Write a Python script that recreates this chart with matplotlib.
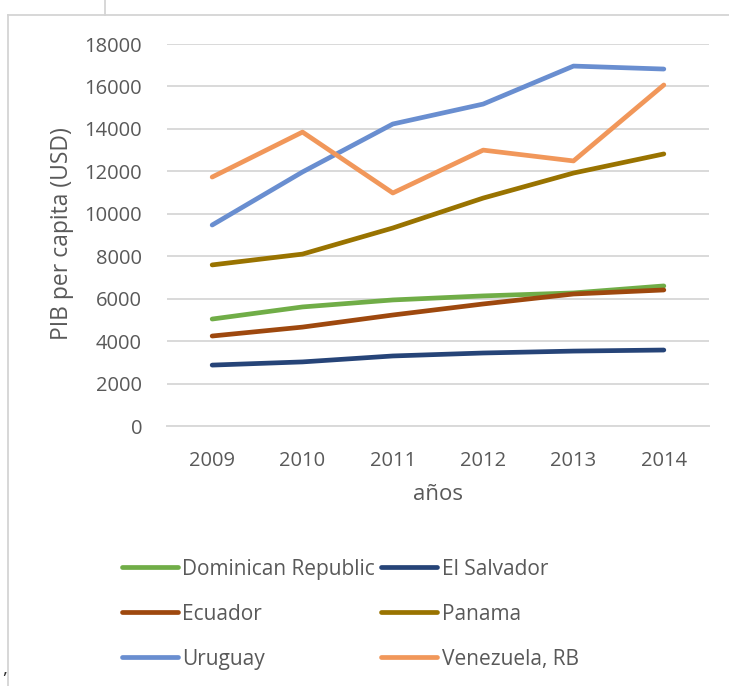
import matplotlib.pyplot as plt
from matplotlib.lines import Line2D

plt.rcParams['font.family'] = ['Open Sans', 'DejaVu Sans']

years = ['2009', '2010', '2011', '2012', '2013', '2014']
dominican = [5040, 5610, 5940, 6130, 6270, 6600]
el_salvador = [2870, 3020, 3300, 3440, 3530, 3580]
ecuador = [4240, 4660, 5230, 5750, 6220, 6410]
panama = [7590, 8100, 9330, 10740, 11920, 12820]
uruguay = [9470, 11970, 14230, 15170, 16960, 16820]
venezuela = [11730, 13850, 10980, 13000, 12490, 16070]

series = [
    ("Dominican Republic", dominican, '#70AD47'),
    ("El Salvador", el_salvador, '#264478'),
    ("Ecuador", ecuador, '#9E480E'),
    ("Panama", panama, '#997300'),
    ("Uruguay", uruguay, '#698ED0'),
    ("Venezuela, RB", venezuela, '#F1975A'),
]

W, H = 729, 686
fig = plt.figure(figsize=(W / 100, H / 100), dpi=100)
ax = fig.add_axes([167 / W, 1 - 426 / H, 542 / W, 382 / H])

txt = '#595959'
grid = '#D9D9D9'

x = list(range(len(years)))
handles = {}
for name, vals, col in series:
    ln, = ax.plot(x, vals, color=col, lw=3.4, solid_capstyle='round',
                  solid_joinstyle='round', label=name, zorder=3)
    handles[name] = ln

ax.set_xlim(-0.5, len(years) - 0.5)
ax.set_ylim(0, 18000)
ax.set_yticks(range(0, 18001, 2000))
ax.set_xticks(x)
ax.set_xticklabels(years)
ax.yaxis.grid(True, color=grid, lw=1.4)
ax.set_axisbelow(True)
for s in ['top', 'right', 'left']:
    ax.spines[s].set_visible(False)
ax.spines['bottom'].set_color(grid)
ax.spines['bottom'].set_linewidth(1.4)
ax.tick_params(axis='both', length=0, labelsize=14.5, colors=txt)
ax.tick_params(axis='y', pad=18)
ax.tick_params(axis='x', pad=18)

ax.set_ylabel("PIB per capita (USD)", fontsize=16.5, color=txt,
              ha='center', va='center')
ax.yaxis.set_label_coords(-105 / 542, 0.505)
ax.set_xlabel("años", fontsize=16, color=txt, ha='center', va='center')
ax.xaxis.set_label_coords(0.5, -69 / 382)

# legend laid out row by row, two columns
order = ["Dominican Republic", "Ecuador", "Uruguay",
         "El Salvador", "Panama", "Venezuela, RB"]
leg = fig.legend([handles[n] for n in order], order, ncol=2,
                 loc='upper left', bbox_to_anchor=(103 / W, 1 - 540 / H),
                 frameon=False, fontsize=15, labelcolor=txt,
                 handlelength=2.7, handletextpad=0.2, columnspacing=0.3,
                 labelspacing=1.15)

# surrounding frame lines
frame = '#D4D4D4'
fig.add_artist(Line2D([8 / W, 1], [1 - 15 / H, 1 - 15 / H], color=frame, lw=1.3))
fig.add_artist(Line2D([8 / W, 8 / W], [0, 1 - 15 / H], color=frame, lw=1.3))
fig.add_artist(Line2D([105 / W, 105 / W], [1 - 15 / H, 1], color=frame, lw=1.3))
fig.text(2 / W, 1 - 674 / H, ",", fontsize=14, color='#333333')

fig.savefig('out.png', dpi=100)
